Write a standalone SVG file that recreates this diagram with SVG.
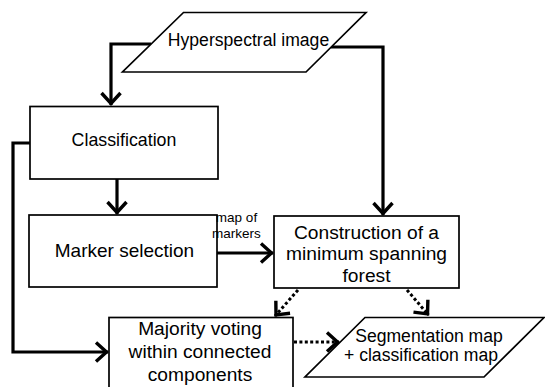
<svg xmlns="http://www.w3.org/2000/svg" width="545" height="387" viewBox="0 0 545 387">
<style>
.box{fill:#fff;stroke:#000;stroke-width:1.7}
.t{font-family:"Liberation Sans",Arial,sans-serif;fill:#000;text-anchor:middle}
.c{fill:none;stroke:#000;stroke-width:3.2}
.d{fill:none;stroke:#000;stroke-width:3;stroke-dasharray:3 2.4}
</style>
<defs>
<marker id="ah" markerUnits="userSpaceOnUse" markerWidth="30" markerHeight="30" viewBox="-15 -15 30 30" refX="0" refY="0" orient="auto" overflow="visible">
<path d="M-12,-9.5 L-1.5,0 L-12,9.5" fill="none" stroke="#000" stroke-width="3.4" stroke-linejoin="miter"/>
</marker>
</defs>
<g id="connectors">
<path class="c" d="M151,44 H111 V105" marker-end="url(#ah)"/>
<path class="c" d="M331,47 H383 V215" marker-end="url(#ah)"/>
<path class="c" d="M117,179 V214" marker-end="url(#ah)"/>
<path class="c" d="M30,143 H13 V352 H108" marker-end="url(#ah)"/>
<path class="c" d="M217,253 H273" marker-end="url(#ah)"/>
<path class="d" d="M298,290 L275,316" marker-end="url(#ah)"/>
<path class="d" d="M407,290 L428.5,315" marker-end="url(#ah)"/>
<path class="d" d="M294,342 H339" marker-end="url(#ah)"/>
</g>
<g id="hyperspectral">
<polygon class="box" points="183.5,12.5 366,12.5 306,72 122.5,72"/>
<text class="t" x="248.5" y="46" font-size="17.6">Hyperspectral image</text>
</g>
<g id="classification">
<rect class="box" x="30" y="106.5" width="188" height="72.5"/>
<text class="t" x="124" y="146" font-size="17.8">Classification</text>
</g>
<g id="marker">
<rect class="box" x="29" y="215" width="188" height="72"/>
<text class="t" x="124.5" y="257" font-size="19">Marker selection</text>
</g>
<g id="label">
<text class="t" x="236.5" y="221.5" font-size="13.5">map of</text>
<text class="t" x="236.5" y="238" font-size="13.5">markers</text>
</g>
<g id="construction">
<rect class="box" x="274" y="216" width="185" height="72"/>
<text class="t" x="366.5" y="238.5" font-size="19.2">Construction of a</text>
<text class="t" x="366.5" y="260" font-size="19.2">minimum spanning</text>
<text class="t" x="366.5" y="281.5" font-size="19.2">forest</text>
</g>
<g id="majority">
<rect class="box" x="109" y="317.5" width="184" height="80"/>
<text class="t" x="200" y="335" font-size="19.2">Majority voting</text>
<text class="t" x="200" y="358" font-size="19.2">within connected</text>
<text class="t" x="200" y="380.5" font-size="19.2">components</text>
</g>
<g id="segmentation">
<polygon class="box" points="365,317.5 544,317.5 484,377 305,377"/>
<text class="t" x="429" y="341.5" font-size="17.6">Segmentation map</text>
<text class="t" x="421" y="360.5" font-size="17.6">+ classification map</text>
</g>
</svg>
